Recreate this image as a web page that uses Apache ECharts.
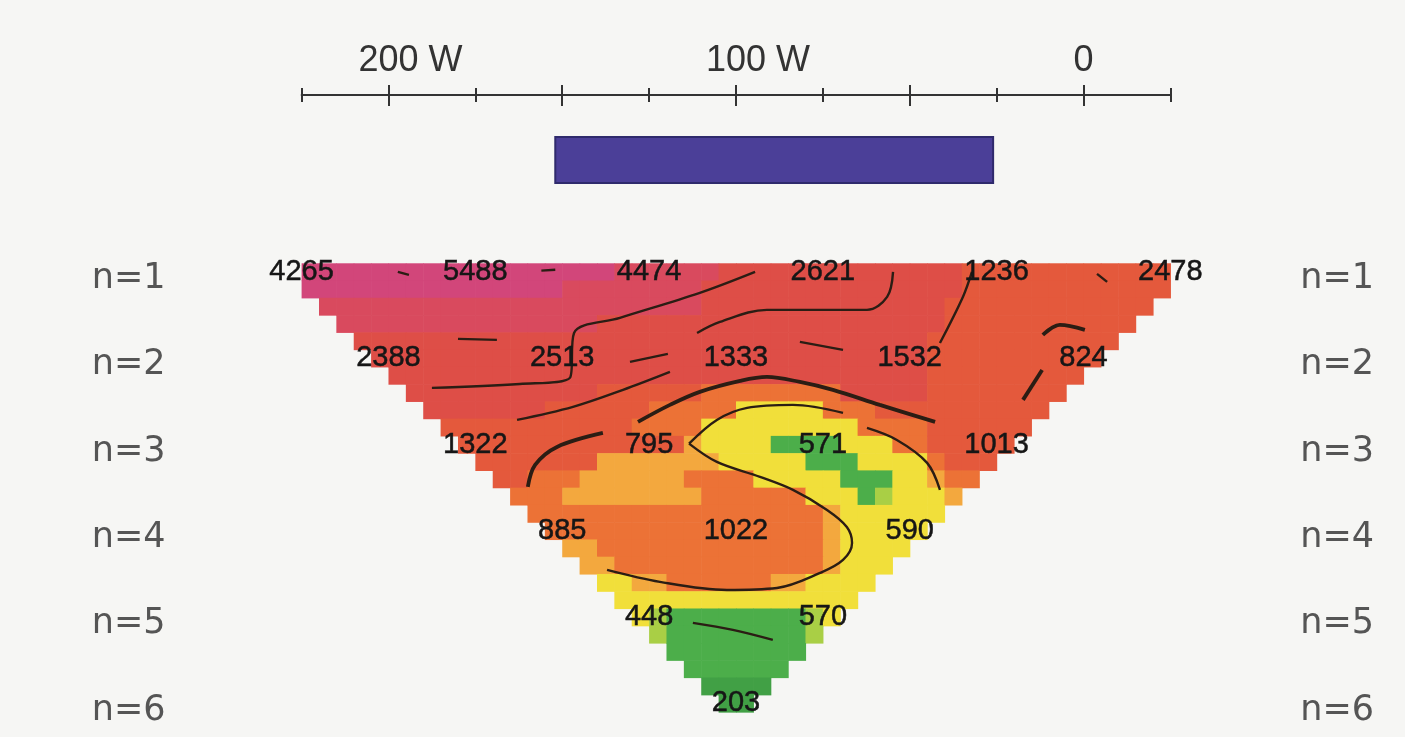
<!DOCTYPE html>
<html><head><meta charset="utf-8">
<script src="https://cdn.jsdelivr.net/npm/echarts@6/dist/echarts.min.js"></script>
<style>html,body{margin:0;padding:0;background:#f6f6f4}#c{width:1405px;height:737px}</style>
</head><body><div id="c"></div>
<script>
// ================= DATA =================
// top ruler (metres, W positive)
const rulerLabels = [200, 100, 0];
const rulerMajor = [200, 150, 100, 50, 0];
const rulerMinor = [225, 200, 175, 150, 125, 100, 75, 50, 25, 0, -25];
const levelLabels = [1, 2, 3, 4, 5, 6];
// blue bar extent along the line (m W)
const targetSpan = [152, 26];

// apparent resistivity values per separation level n
const n1X = [225, 175, 125, 75, 25, -25];
const n1V = [4265, 5488, 4474, 2621, 1236, 2478];
const n2X = [200, 150, 100, 50, 0];
const n2V = [2388, 2513, 1333, 1532, 824];
const n3X = [175, 125, 75, 25];
const n3V = [1322, 795, 571, 1013];
const n4X = [150, 100, 50];
const n4V = [885, 1022, 590];
const n5X = [125, 75];
const n5V = [448, 570];
const n6X = [100];
const n6V = [203];

// colour class of each 5 m x 0.2n cell, run-length coded, row by row from n=1.0 downward
// classes: P pink, Q pink-red, R red, O orange-red, A orange, D light orange, Y yellow, L yellow-green, G green, H dark green
const cellRows = [
  "P18 Q6 R14 O12",
  "P15 Q8 R15 O12",
  ".1 Q22 R14 O12 .1",
  ".2 Q15 R20 O11 .2",
  ".3 R33 O11 .3",
  ".4 R32 O10 .4",
  ".5 R31 O9 .5",
  ".6 R11 O6 A8 R5 O8 .6",
  ".7 R7 O6 A5 Y5 A3 O10 .7",
  ".8 O11 A4 Y9 A4 O6 .8",
  ".9 O13 D1 Y4 G4 Y3 A2 O5 .9",
  ".10 O7 D7 Y5 G3 Y4 A1 O3 .10",
  ".11 O2 A3 D6 A4 Y5 G3 Y2 D1 A2 .11",
  ".12 A3 D8 A6 Y3 G1 L1 Y3 D1 .12",
  ".13 A17 D1 Y6 .13",
  ".14 A16 D1 Y5 .14",
  ".15 D2 A13 D1 Y4 .15",
  ".16 D2 A12 D1 Y3 .16",
  ".17 Y2 D2 A6 D2 Y4 .17",
  ".18 Y14 .18",
  ".19 Y1 L1 G8 L1 Y1 .19",
  ".20 L1 G8 L1 .20",
  ".21 G8 .21",
  ".22 G6 .22",
  ".23 H4 .23",
  ".24 H2 .24"
];
const cellX0 = 222.5, cellDX = 5, cellN0 = 1, cellDN = 0.2;

// contour lines, points as [m W, n]
const contoursThin = [
  [[187.5,2.344],[162.2,2.298],[147.8,2.228],[146.6,1.707],[133.4,1.533],[110.4,1.243],[94.5,1.0]],
  [[180,1.776],[168.8,1.788]],
  [[197.3,1.0],[194.1,1.035]],
  [[156,0.985],[152,0.975]],
  [[-3.9,1.023],[-6.8,1.116]],
  [[163,2.715],[146.9,2.564],[132.5,2.367],[119,2.159]],
  [[130.5,2.043],[119.6,1.95]],
  [[111.2,1.707],[104.6,1.579],[91.1,1.44],[62.3,1.44],[56.5,1.29],[54.8,1.0]],
  [[32.1,1.0],[34.7,1.29],[41.3,1.823]],
  [[81.6,1.811],[69.2,1.904]],
  [[113.5,2.99],[105.5,2.715],[96.8,2.576],[83.6,2.541],[69.2,2.634]],
  [[62.3,2.808],[53.7,2.947],[45,3.213],[41.3,3.526]],
  [[113.5,2.99],[105.5,3.202],[93.1,3.375],[83.6,3.526],[73.8,3.758],[68.1,3.955],[66.6,4.14],[69.2,4.337],[75.8,4.488],[88.2,4.662],[102.6,4.685],[121.9,4.592],[137.1,4.453]],
  [[112.4,5.067],[100.9,5.148],[89.4,5.264]]
];
const contoursThick = [
  [[11.7,1.73],[6.8,1.614],[-0.4,1.672]],
  [[17.4,2.483],[11.9,2.136]],
  [[159.9,3.491],[157.8,3.236],[151.5,3.028],[138.3,2.866]],
  [[128.2,2.738],[119,2.541],[110.4,2.39],[98.8,2.263],[91.1,2.217],[81.6,2.275],[72.1,2.367],[58.6,2.541],[42.7,2.738]]
];

// ================= STYLE / LAYOUT =================
const classKeys = ['P','Q','R','O','A','D','Y','L','G','H'];
const classColors = ['#d2467a','#d94a5e','#de4e47','#e4593c','#ec7236','#f3a83e','#f1df3a','#a9cf45','#4cae4a','#41a045'];
const barBand = [-0.564, -0.031];
const lineColor = '#2b1d14';
const fontNum = "'Liberation Sans', Arial, sans-serif";

const cellData = [];
cellRows.forEach((row, j) => {
  let i = 0;
  row.split(' ').forEach(tok => {
    const c = tok[0], k = +tok.slice(1);
    for (let m = 0; m < k; m++, i++) {
      if (c !== '.') cellData.push([cellX0 - cellDX * i, cellN0 + cellDN * j, classKeys.indexOf(c)]);
    }
  });
});

const labelData = [];
[[n1X,n1V,1],[n2X,n2V,2],[n3X,n3V,3],[n4X,n4V,4],[n5X,n5V,5],[n6X,n6V,6]].forEach(([xs, vs, n]) => {
  xs.forEach((x, k) => labelData.push([x, n, vs[k]]));
});

const xBase = { type: 'value', min: -25, max: 225, inverse: true, position: 'top', gridIndex: 0,
  splitLine: { show: false } };
const tickStyle = { color: '#333', width: 2 };

const series = [
  {
    type: 'custom', z: 1, silent: true,
    data: cellData,
    encode: { x: 0, y: 1 },
    renderItem(params, api) {
      const x = api.value(0), n = api.value(1);
      const p1 = api.coord([x + cellDX / 2, n - cellDN / 2]);
      const p2 = api.coord([x - cellDX / 2, n + cellDN / 2]);
      return { type: 'rect',
        shape: { x: Math.min(p1[0], p2[0]), y: Math.min(p1[1], p2[1]),
                 width: Math.abs(p2[0] - p1[0]) + 0.6, height: Math.abs(p2[1] - p1[1]) + 0.6 },
        style: { fill: classColors[api.value(2)] } };
    }
  },
  {
    type: 'custom', z: 2, silent: true,
    data: [targetSpan],
    encode: { x: [0, 1] },
    renderItem(params, api) {
      const a = api.coord([api.value(0), barBand[0]]);
      const b = api.coord([api.value(1), barBand[1]]);
      return { type: 'rect',
        shape: { x: Math.min(a[0], b[0]), y: a[1], width: Math.abs(b[0] - a[0]), height: b[1] - a[1] },
        style: { fill: '#4b3f98', stroke: '#2f2a6c', lineWidth: 2 } };
    }
  }
];
contoursThin.forEach(pts => series.push({
  type: 'line', data: pts, symbol: 'none', smooth: 0.35, z: 3, silent: true,
  lineStyle: { color: lineColor, width: 2.4 }
}));
contoursThick.forEach(pts => series.push({
  type: 'line', data: pts, symbol: 'none', smooth: 0.35, z: 3, silent: true,
  lineStyle: { color: lineColor, width: 3.8 }
}));
series.push({
  type: 'custom', z: 5, silent: true,
  data: labelData,
  encode: { x: 0, y: 1 },
  renderItem(params, api) {
    const p = api.coord([api.value(0), api.value(1)]);
    return { type: 'text', x: p[0], y: p[1],
      style: { text: String(api.value(2)), fontSize: 29, fontFamily: fontNum,
               fill: '#161616', stroke: '#161616', lineWidth: 0.5,
               align: 'center', verticalAlign: 'middle' } };
  }
});

const levelLabel = {
  customValues: levelLabels, formatter: v => '{a|n=' + v + '}',
  rich: { a: { fontSize: 35, fontFamily: "'DejaVu Sans', sans-serif", color: '#555', padding: [14, 0, 0, 0] } }
};

const chart = echarts.init(document.getElementById('c'), null, { renderer: 'canvas' });
chart.setOption({
  backgroundColor: '#f6f6f4',
  animation: false,
  grid: { left: 301.6, width: 868.75, top: 95, height: 634.3 },
  xAxis: [
    Object.assign({}, xBase, {
      axisLine: { show: true, onZero: false, lineStyle: { color: '#333', width: 2 } },
      axisTick: { show: true, customValues: rulerMinor, length: 7, lineStyle: tickStyle },
      axisLabel: {
        customValues: rulerLabels, margin: 16, color: '#333', fontSize: 36, fontFamily: fontNum,
        formatter: v => v === 0 ? '0' : '{p| }{n|' + v + '}{w| W}',
        rich: { p: { width: 44, fontSize: 36 }, n: { fontSize: 36, fontFamily: fontNum, color: '#333' },
                w: { width: 44, fontSize: 36, fontFamily: fontNum, color: '#333' } }
      }
    }),
    Object.assign({}, xBase, {
      axisLine: { show: false, onZero: false },
      axisTick: { show: true, inside: true, customValues: rulerMinor, length: 7, lineStyle: tickStyle },
      axisLabel: { show: false }
    }),
    Object.assign({}, xBase, {
      axisLine: { show: false, onZero: false },
      axisTick: { show: true, customValues: rulerMajor, length: 10, lineStyle: tickStyle },
      axisLabel: { show: false }
    }),
    Object.assign({}, xBase, {
      axisLine: { show: false, onZero: false },
      axisTick: { show: true, inside: true, customValues: rulerMajor, length: 11, lineStyle: tickStyle },
      axisLabel: { show: false }
    })
  ],
  yAxis: [
    { type: 'value', min: -1.05, max: 6.3, inverse: true, position: 'left',
      axisLine: { show: false, onZero: false }, axisTick: { show: false }, splitLine: { show: false },
      axisLabel: Object.assign({ margin: 136 }, levelLabel) },
    { type: 'value', min: -1.05, max: 6.3, inverse: true, position: 'right',
      axisLine: { show: false, onZero: false }, axisTick: { show: false }, splitLine: { show: false },
      axisLabel: Object.assign({ margin: 130 }, levelLabel) }
  ],
  series: series
});
</script></body></html>
